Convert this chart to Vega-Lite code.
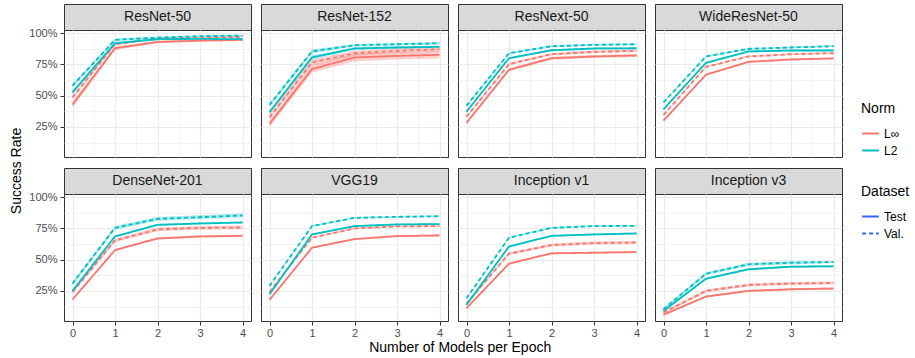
{
"$schema": "https://vega.github.io/schema/vega-lite/v6.json",
"padding": {"left": 10, "top": 3, "right": 5, "bottom": 5},
"background": "white",
"data": {"values": [
{"model":"ResNet-50","norm":"L∞","dataset":"Test","epoch":0,"rate":0.428,"lo":0.403,"hi":0.453},
{"model":"ResNet-50","norm":"L∞","dataset":"Test","epoch":1,"rate":0.880,"lo":0.865,"hi":0.895},
{"model":"ResNet-50","norm":"L∞","dataset":"Test","epoch":2,"rate":0.930,"lo":0.920,"hi":0.940},
{"model":"ResNet-50","norm":"L∞","dataset":"Test","epoch":3,"rate":0.941,"lo":0.931,"hi":0.951},
{"model":"ResNet-50","norm":"L∞","dataset":"Test","epoch":4,"rate":0.947,"lo":0.937,"hi":0.957},
{"model":"ResNet-50","norm":"L∞","dataset":"Val.","epoch":0,"rate":0.487,"lo":0.472,"hi":0.502},
{"model":"ResNet-50","norm":"L∞","dataset":"Val.","epoch":1,"rate":0.912,"lo":0.902,"hi":0.922},
{"model":"ResNet-50","norm":"L∞","dataset":"Val.","epoch":2,"rate":0.957,"lo":0.950,"hi":0.964},
{"model":"ResNet-50","norm":"L∞","dataset":"Val.","epoch":3,"rate":0.965,"lo":0.958,"hi":0.972},
{"model":"ResNet-50","norm":"L∞","dataset":"Val.","epoch":4,"rate":0.970,"lo":0.963,"hi":0.977},
{"model":"ResNet-50","norm":"L2","dataset":"Test","epoch":0,"rate":0.527,"lo":0.512,"hi":0.542},
{"model":"ResNet-50","norm":"L2","dataset":"Test","epoch":1,"rate":0.920,"lo":0.910,"hi":0.930},
{"model":"ResNet-50","norm":"L2","dataset":"Test","epoch":2,"rate":0.952,"lo":0.945,"hi":0.959},
{"model":"ResNet-50","norm":"L2","dataset":"Test","epoch":3,"rate":0.955,"lo":0.948,"hi":0.962},
{"model":"ResNet-50","norm":"L2","dataset":"Test","epoch":4,"rate":0.952,"lo":0.945,"hi":0.959},
{"model":"ResNet-50","norm":"L2","dataset":"Val.","epoch":0,"rate":0.580,"lo":0.565,"hi":0.595},
{"model":"ResNet-50","norm":"L2","dataset":"Val.","epoch":1,"rate":0.947,"lo":0.937,"hi":0.957},
{"model":"ResNet-50","norm":"L2","dataset":"Val.","epoch":2,"rate":0.965,"lo":0.958,"hi":0.972},
{"model":"ResNet-50","norm":"L2","dataset":"Val.","epoch":3,"rate":0.976,"lo":0.969,"hi":0.983},
{"model":"ResNet-50","norm":"L2","dataset":"Val.","epoch":4,"rate":0.981,"lo":0.974,"hi":0.988},
{"model":"ResNet-152","norm":"L∞","dataset":"Test","epoch":0,"rate":0.274,"lo":0.249,"hi":0.299},
{"model":"ResNet-152","norm":"L∞","dataset":"Test","epoch":1,"rate":0.713,"lo":0.683,"hi":0.743},
{"model":"ResNet-152","norm":"L∞","dataset":"Test","epoch":2,"rate":0.806,"lo":0.776,"hi":0.836},
{"model":"ResNet-152","norm":"L∞","dataset":"Test","epoch":3,"rate":0.819,"lo":0.789,"hi":0.849},
{"model":"ResNet-152","norm":"L∞","dataset":"Test","epoch":4,"rate":0.827,"lo":0.797,"hi":0.857},
{"model":"ResNet-152","norm":"L∞","dataset":"Val.","epoch":0,"rate":0.327,"lo":0.307,"hi":0.347},
{"model":"ResNet-152","norm":"L∞","dataset":"Val.","epoch":1,"rate":0.766,"lo":0.741,"hi":0.791},
{"model":"ResNet-152","norm":"L∞","dataset":"Val.","epoch":2,"rate":0.840,"lo":0.820,"hi":0.860},
{"model":"ResNet-152","norm":"L∞","dataset":"Val.","epoch":3,"rate":0.859,"lo":0.839,"hi":0.879},
{"model":"ResNet-152","norm":"L∞","dataset":"Val.","epoch":4,"rate":0.872,"lo":0.852,"hi":0.892},
{"model":"ResNet-152","norm":"L2","dataset":"Test","epoch":0,"rate":0.367,"lo":0.352,"hi":0.382},
{"model":"ResNet-152","norm":"L2","dataset":"Test","epoch":1,"rate":0.806,"lo":0.791,"hi":0.821},
{"model":"ResNet-152","norm":"L2","dataset":"Test","epoch":2,"rate":0.878,"lo":0.868,"hi":0.888},
{"model":"ResNet-152","norm":"L2","dataset":"Test","epoch":3,"rate":0.886,"lo":0.876,"hi":0.896},
{"model":"ResNet-152","norm":"L2","dataset":"Test","epoch":4,"rate":0.891,"lo":0.881,"hi":0.901},
{"model":"ResNet-152","norm":"L2","dataset":"Val.","epoch":0,"rate":0.426,"lo":0.411,"hi":0.441},
{"model":"ResNet-152","norm":"L2","dataset":"Val.","epoch":1,"rate":0.854,"lo":0.839,"hi":0.869},
{"model":"ResNet-152","norm":"L2","dataset":"Val.","epoch":2,"rate":0.904,"lo":0.894,"hi":0.914},
{"model":"ResNet-152","norm":"L2","dataset":"Val.","epoch":3,"rate":0.912,"lo":0.902,"hi":0.922},
{"model":"ResNet-152","norm":"L2","dataset":"Val.","epoch":4,"rate":0.920,"lo":0.910,"hi":0.930},
{"model":"ResNext-50","norm":"L∞","dataset":"Test","epoch":0,"rate":0.282,"lo":0.270,"hi":0.294},
{"model":"ResNext-50","norm":"L∞","dataset":"Test","epoch":1,"rate":0.707,"lo":0.695,"hi":0.719},
{"model":"ResNext-50","norm":"L∞","dataset":"Test","epoch":2,"rate":0.800,"lo":0.788,"hi":0.812},
{"model":"ResNext-50","norm":"L∞","dataset":"Test","epoch":3,"rate":0.814,"lo":0.802,"hi":0.826},
{"model":"ResNext-50","norm":"L∞","dataset":"Test","epoch":4,"rate":0.822,"lo":0.810,"hi":0.834},
{"model":"ResNext-50","norm":"L∞","dataset":"Val.","epoch":0,"rate":0.332,"lo":0.322,"hi":0.342},
{"model":"ResNext-50","norm":"L∞","dataset":"Val.","epoch":1,"rate":0.753,"lo":0.743,"hi":0.763},
{"model":"ResNext-50","norm":"L∞","dataset":"Val.","epoch":2,"rate":0.832,"lo":0.822,"hi":0.842},
{"model":"ResNext-50","norm":"L∞","dataset":"Val.","epoch":3,"rate":0.851,"lo":0.841,"hi":0.861},
{"model":"ResNext-50","norm":"L∞","dataset":"Val.","epoch":4,"rate":0.859,"lo":0.849,"hi":0.869},
{"model":"ResNext-50","norm":"L2","dataset":"Test","epoch":0,"rate":0.372,"lo":0.364,"hi":0.380},
{"model":"ResNext-50","norm":"L2","dataset":"Test","epoch":1,"rate":0.800,"lo":0.792,"hi":0.808},
{"model":"ResNext-50","norm":"L2","dataset":"Test","epoch":2,"rate":0.864,"lo":0.856,"hi":0.872},
{"model":"ResNext-50","norm":"L2","dataset":"Test","epoch":3,"rate":0.878,"lo":0.870,"hi":0.886},
{"model":"ResNext-50","norm":"L2","dataset":"Test","epoch":4,"rate":0.880,"lo":0.872,"hi":0.888},
{"model":"ResNext-50","norm":"L2","dataset":"Val.","epoch":0,"rate":0.420,"lo":0.412,"hi":0.428},
{"model":"ResNext-50","norm":"L2","dataset":"Val.","epoch":1,"rate":0.840,"lo":0.832,"hi":0.848},
{"model":"ResNext-50","norm":"L2","dataset":"Val.","epoch":2,"rate":0.896,"lo":0.888,"hi":0.904},
{"model":"ResNext-50","norm":"L2","dataset":"Val.","epoch":3,"rate":0.907,"lo":0.899,"hi":0.915},
{"model":"ResNext-50","norm":"L2","dataset":"Val.","epoch":4,"rate":0.912,"lo":0.904,"hi":0.920},
{"model":"WideResNet-50","norm":"L∞","dataset":"Test","epoch":0,"rate":0.300,"lo":0.293,"hi":0.307},
{"model":"WideResNet-50","norm":"L∞","dataset":"Test","epoch":1,"rate":0.668,"lo":0.661,"hi":0.675},
{"model":"WideResNet-50","norm":"L∞","dataset":"Test","epoch":2,"rate":0.771,"lo":0.764,"hi":0.778},
{"model":"WideResNet-50","norm":"L∞","dataset":"Test","epoch":3,"rate":0.790,"lo":0.783,"hi":0.797},
{"model":"WideResNet-50","norm":"L∞","dataset":"Test","epoch":4,"rate":0.798,"lo":0.791,"hi":0.805},
{"model":"WideResNet-50","norm":"L∞","dataset":"Val.","epoch":0,"rate":0.346,"lo":0.339,"hi":0.353},
{"model":"WideResNet-50","norm":"L∞","dataset":"Val.","epoch":1,"rate":0.731,"lo":0.724,"hi":0.738},
{"model":"WideResNet-50","norm":"L∞","dataset":"Val.","epoch":2,"rate":0.814,"lo":0.807,"hi":0.821},
{"model":"WideResNet-50","norm":"L∞","dataset":"Val.","epoch":3,"rate":0.832,"lo":0.825,"hi":0.839},
{"model":"WideResNet-50","norm":"L∞","dataset":"Val.","epoch":4,"rate":0.840,"lo":0.833,"hi":0.847},
{"model":"WideResNet-50","norm":"L2","dataset":"Test","epoch":0,"rate":0.391,"lo":0.384,"hi":0.398},
{"model":"WideResNet-50","norm":"L2","dataset":"Test","epoch":1,"rate":0.763,"lo":0.756,"hi":0.770},
{"model":"WideResNet-50","norm":"L2","dataset":"Test","epoch":2,"rate":0.854,"lo":0.847,"hi":0.861},
{"model":"WideResNet-50","norm":"L2","dataset":"Test","epoch":3,"rate":0.862,"lo":0.855,"hi":0.869},
{"model":"WideResNet-50","norm":"L2","dataset":"Test","epoch":4,"rate":0.862,"lo":0.855,"hi":0.869},
{"model":"WideResNet-50","norm":"L2","dataset":"Val.","epoch":0,"rate":0.447,"lo":0.440,"hi":0.454},
{"model":"WideResNet-50","norm":"L2","dataset":"Val.","epoch":1,"rate":0.814,"lo":0.807,"hi":0.821},
{"model":"WideResNet-50","norm":"L2","dataset":"Val.","epoch":2,"rate":0.875,"lo":0.868,"hi":0.882},
{"model":"WideResNet-50","norm":"L2","dataset":"Val.","epoch":3,"rate":0.886,"lo":0.879,"hi":0.893},
{"model":"WideResNet-50","norm":"L2","dataset":"Val.","epoch":4,"rate":0.896,"lo":0.889,"hi":0.903},
{"model":"DenseNet-201","norm":"L∞","dataset":"Test","epoch":0,"rate":0.181,"lo":0.173,"hi":0.189},
{"model":"DenseNet-201","norm":"L∞","dataset":"Test","epoch":1,"rate":0.577,"lo":0.569,"hi":0.585},
{"model":"DenseNet-201","norm":"L∞","dataset":"Test","epoch":2,"rate":0.670,"lo":0.662,"hi":0.678},
{"model":"DenseNet-201","norm":"L∞","dataset":"Test","epoch":3,"rate":0.686,"lo":0.678,"hi":0.694},
{"model":"DenseNet-201","norm":"L∞","dataset":"Test","epoch":4,"rate":0.691,"lo":0.683,"hi":0.699},
{"model":"DenseNet-201","norm":"L∞","dataset":"Val.","epoch":0,"rate":0.242,"lo":0.227,"hi":0.257},
{"model":"DenseNet-201","norm":"L∞","dataset":"Val.","epoch":1,"rate":0.654,"lo":0.639,"hi":0.669},
{"model":"DenseNet-201","norm":"L∞","dataset":"Val.","epoch":2,"rate":0.742,"lo":0.727,"hi":0.757},
{"model":"DenseNet-201","norm":"L∞","dataset":"Val.","epoch":3,"rate":0.755,"lo":0.740,"hi":0.770},
{"model":"DenseNet-201","norm":"L∞","dataset":"Val.","epoch":4,"rate":0.758,"lo":0.743,"hi":0.773},
{"model":"DenseNet-201","norm":"L2","dataset":"Test","epoch":0,"rate":0.250,"lo":0.242,"hi":0.258},
{"model":"DenseNet-201","norm":"L2","dataset":"Test","epoch":1,"rate":0.686,"lo":0.678,"hi":0.694},
{"model":"DenseNet-201","norm":"L2","dataset":"Test","epoch":2,"rate":0.779,"lo":0.771,"hi":0.787},
{"model":"DenseNet-201","norm":"L2","dataset":"Test","epoch":3,"rate":0.790,"lo":0.782,"hi":0.798},
{"model":"DenseNet-201","norm":"L2","dataset":"Test","epoch":4,"rate":0.798,"lo":0.790,"hi":0.806},
{"model":"DenseNet-201","norm":"L2","dataset":"Val.","epoch":0,"rate":0.309,"lo":0.294,"hi":0.324},
{"model":"DenseNet-201","norm":"L2","dataset":"Val.","epoch":1,"rate":0.755,"lo":0.740,"hi":0.770},
{"model":"DenseNet-201","norm":"L2","dataset":"Val.","epoch":2,"rate":0.827,"lo":0.812,"hi":0.842},
{"model":"DenseNet-201","norm":"L2","dataset":"Val.","epoch":3,"rate":0.840,"lo":0.825,"hi":0.855},
{"model":"DenseNet-201","norm":"L2","dataset":"Val.","epoch":4,"rate":0.854,"lo":0.839,"hi":0.869},
{"model":"VGG19","norm":"L∞","dataset":"Test","epoch":0,"rate":0.178,"lo":0.171,"hi":0.185},
{"model":"VGG19","norm":"L∞","dataset":"Test","epoch":1,"rate":0.596,"lo":0.589,"hi":0.603},
{"model":"VGG19","norm":"L∞","dataset":"Test","epoch":2,"rate":0.665,"lo":0.658,"hi":0.672},
{"model":"VGG19","norm":"L∞","dataset":"Test","epoch":3,"rate":0.689,"lo":0.682,"hi":0.696},
{"model":"VGG19","norm":"L∞","dataset":"Test","epoch":4,"rate":0.694,"lo":0.687,"hi":0.701},
{"model":"VGG19","norm":"L∞","dataset":"Val.","epoch":0,"rate":0.242,"lo":0.235,"hi":0.249},
{"model":"VGG19","norm":"L∞","dataset":"Val.","epoch":1,"rate":0.676,"lo":0.669,"hi":0.683},
{"model":"VGG19","norm":"L∞","dataset":"Val.","epoch":2,"rate":0.750,"lo":0.743,"hi":0.757},
{"model":"VGG19","norm":"L∞","dataset":"Val.","epoch":3,"rate":0.766,"lo":0.759,"hi":0.773},
{"model":"VGG19","norm":"L∞","dataset":"Val.","epoch":4,"rate":0.769,"lo":0.762,"hi":0.776},
{"model":"VGG19","norm":"L2","dataset":"Test","epoch":0,"rate":0.223,"lo":0.216,"hi":0.230},
{"model":"VGG19","norm":"L2","dataset":"Test","epoch":1,"rate":0.702,"lo":0.695,"hi":0.709},
{"model":"VGG19","norm":"L2","dataset":"Test","epoch":2,"rate":0.769,"lo":0.762,"hi":0.776},
{"model":"VGG19","norm":"L2","dataset":"Test","epoch":3,"rate":0.782,"lo":0.775,"hi":0.789},
{"model":"VGG19","norm":"L2","dataset":"Test","epoch":4,"rate":0.785,"lo":0.778,"hi":0.792},
{"model":"VGG19","norm":"L2","dataset":"Val.","epoch":0,"rate":0.290,"lo":0.283,"hi":0.297},
{"model":"VGG19","norm":"L2","dataset":"Val.","epoch":1,"rate":0.769,"lo":0.762,"hi":0.776},
{"model":"VGG19","norm":"L2","dataset":"Val.","epoch":2,"rate":0.835,"lo":0.828,"hi":0.842},
{"model":"VGG19","norm":"L2","dataset":"Val.","epoch":3,"rate":0.843,"lo":0.836,"hi":0.850},
{"model":"VGG19","norm":"L2","dataset":"Val.","epoch":4,"rate":0.848,"lo":0.841,"hi":0.855},
{"model":"Inception v1","norm":"L∞","dataset":"Test","epoch":0,"rate":0.112,"lo":0.105,"hi":0.119},
{"model":"Inception v1","norm":"L∞","dataset":"Test","epoch":1,"rate":0.468,"lo":0.461,"hi":0.475},
{"model":"Inception v1","norm":"L∞","dataset":"Test","epoch":2,"rate":0.551,"lo":0.544,"hi":0.558},
{"model":"Inception v1","norm":"L∞","dataset":"Test","epoch":3,"rate":0.556,"lo":0.549,"hi":0.563},
{"model":"Inception v1","norm":"L∞","dataset":"Test","epoch":4,"rate":0.561,"lo":0.554,"hi":0.568},
{"model":"Inception v1","norm":"L∞","dataset":"Val.","epoch":0,"rate":0.149,"lo":0.137,"hi":0.161},
{"model":"Inception v1","norm":"L∞","dataset":"Val.","epoch":1,"rate":0.548,"lo":0.536,"hi":0.560},
{"model":"Inception v1","norm":"L∞","dataset":"Val.","epoch":2,"rate":0.617,"lo":0.605,"hi":0.629},
{"model":"Inception v1","norm":"L∞","dataset":"Val.","epoch":3,"rate":0.633,"lo":0.621,"hi":0.645},
{"model":"Inception v1","norm":"L∞","dataset":"Val.","epoch":4,"rate":0.638,"lo":0.626,"hi":0.650},
{"model":"Inception v1","norm":"L2","dataset":"Test","epoch":0,"rate":0.138,"lo":0.131,"hi":0.145},
{"model":"Inception v1","norm":"L2","dataset":"Test","epoch":1,"rate":0.606,"lo":0.599,"hi":0.613},
{"model":"Inception v1","norm":"L2","dataset":"Test","epoch":2,"rate":0.691,"lo":0.684,"hi":0.698},
{"model":"Inception v1","norm":"L2","dataset":"Test","epoch":3,"rate":0.702,"lo":0.695,"hi":0.709},
{"model":"Inception v1","norm":"L2","dataset":"Test","epoch":4,"rate":0.710,"lo":0.703,"hi":0.717},
{"model":"Inception v1","norm":"L2","dataset":"Val.","epoch":0,"rate":0.191,"lo":0.184,"hi":0.198},
{"model":"Inception v1","norm":"L2","dataset":"Val.","epoch":1,"rate":0.676,"lo":0.669,"hi":0.683},
{"model":"Inception v1","norm":"L2","dataset":"Val.","epoch":2,"rate":0.755,"lo":0.748,"hi":0.762},
{"model":"Inception v1","norm":"L2","dataset":"Val.","epoch":3,"rate":0.769,"lo":0.762,"hi":0.776},
{"model":"Inception v1","norm":"L2","dataset":"Val.","epoch":4,"rate":0.771,"lo":0.764,"hi":0.778},
{"model":"Inception v3","norm":"L∞","dataset":"Test","epoch":0,"rate":0.059,"lo":0.051,"hi":0.067},
{"model":"Inception v3","norm":"L∞","dataset":"Test","epoch":1,"rate":0.205,"lo":0.197,"hi":0.213},
{"model":"Inception v3","norm":"L∞","dataset":"Test","epoch":2,"rate":0.250,"lo":0.242,"hi":0.258},
{"model":"Inception v3","norm":"L∞","dataset":"Test","epoch":3,"rate":0.263,"lo":0.255,"hi":0.271},
{"model":"Inception v3","norm":"L∞","dataset":"Test","epoch":4,"rate":0.269,"lo":0.261,"hi":0.277},
{"model":"Inception v3","norm":"L∞","dataset":"Val.","epoch":0,"rate":0.077,"lo":0.065,"hi":0.089},
{"model":"Inception v3","norm":"L∞","dataset":"Val.","epoch":1,"rate":0.250,"lo":0.238,"hi":0.262},
{"model":"Inception v3","norm":"L∞","dataset":"Val.","epoch":2,"rate":0.298,"lo":0.286,"hi":0.310},
{"model":"Inception v3","norm":"L∞","dataset":"Val.","epoch":3,"rate":0.309,"lo":0.297,"hi":0.321},
{"model":"Inception v3","norm":"L∞","dataset":"Val.","epoch":4,"rate":0.314,"lo":0.302,"hi":0.326},
{"model":"Inception v3","norm":"L2","dataset":"Test","epoch":0,"rate":0.090,"lo":0.082,"hi":0.098},
{"model":"Inception v3","norm":"L2","dataset":"Test","epoch":1,"rate":0.348,"lo":0.340,"hi":0.356},
{"model":"Inception v3","norm":"L2","dataset":"Test","epoch":2,"rate":0.423,"lo":0.415,"hi":0.431},
{"model":"Inception v3","norm":"L2","dataset":"Test","epoch":3,"rate":0.444,"lo":0.436,"hi":0.452},
{"model":"Inception v3","norm":"L2","dataset":"Test","epoch":4,"rate":0.447,"lo":0.439,"hi":0.455},
{"model":"Inception v3","norm":"L2","dataset":"Val.","epoch":0,"rate":0.104,"lo":0.092,"hi":0.116},
{"model":"Inception v3","norm":"L2","dataset":"Val.","epoch":1,"rate":0.388,"lo":0.376,"hi":0.400},
{"model":"Inception v3","norm":"L2","dataset":"Val.","epoch":2,"rate":0.463,"lo":0.451,"hi":0.475},
{"model":"Inception v3","norm":"L2","dataset":"Val.","epoch":3,"rate":0.476,"lo":0.464,"hi":0.488},
{"model":"Inception v3","norm":"L2","dataset":"Val.","epoch":4,"rate":0.481,"lo":0.474,"hi":0.488}
]},
"title": {"text": "Number of Models per Epoch", "orient": "bottom", "anchor": "middle", "fontSize": 14, "fontWeight": "normal", "color": "#000000", "font": "Liberation Sans", "offset": 2},
"vconcat": [{
"title": {"text": "Success Rate", "orient": "left", "anchor": "middle", "fontSize": 14, "fontWeight": "normal", "color": "#000000", "font": "Liberation Sans", "offset": 4},
"spacing": 9,
"vconcat": [
{"spacing": 8, "hconcat": [
{"spacing": 0, "bounds": "flush", "vconcat": [
 {"width": 187, "height": 26, "view": {"fill": "#D9D9D9", "stroke": "#333333"}, "transform": [{"filter": "datum.model === 'ResNet-50'"}, {"aggregate": [{"op": "count", "as": "n"}], "groupby": ["model"]}], "mark": {"type": "text", "fontSize": 14, "color": "#1A1A1A", "font": "Liberation Sans", "baseline": "middle"}, "encoding": {"text": {"field": "model"}}},
 {"width": 187, "height": 127, "transform": [{"filter": "datum.model === 'ResNet-50'"}],
  "encoding": {"x": {"field": "epoch", "type": "quantitative", "scale": {"domain": [-0.2, 4.2], "nice": false, "zero": false}, "axis": {"title": null, "values": [0,0.5,1,1.5,2,2.5,3,3.5,4], "labels": false, "ticks": false, "gridWidth": {"condition": {"test": "datum.value % 1 !== 0", "value": 0.6}, "value": 1.2}}},
   "color": {"field": "norm", "type": "nominal", "title": "Norm", "scale": {"domain": ["L∞", "L2"], "range": ["#F8766D", "#00BFC4"]}}},
  "layer": [
   {"mark": {"type": "area", "fillOpacity": 0.35}, "encoding": {"y": {"field": "lo", "type": "quantitative", "scale": {"domain": [0.009, 1.026], "nice": false, "zero": false}, "axis": {"title": null, "values": [0.125,0.25,0.375,0.5,0.625,0.75,0.875,1], "format": ".0%", "labelOverlap": false, "labelExpr": "(datum.value * 8) % 2 === 0 ? datum.label : ''", "tickOpacity": {"condition": {"test": "(datum.value * 8) % 2 !== 0", "value": 0}, "value": 1}, "gridWidth": {"condition": {"test": "(datum.value * 8) % 2 !== 0", "value": 0.6}, "value": 1.2}}}, "y2": {"field": "hi"}, "detail": {"field": "dataset"}}},
   {"mark": {"type": "line", "strokeWidth": 1.8}, "encoding": {"y": {"field": "rate", "type": "quantitative", "axis": {"title": null, "values": [0.125,0.25,0.375,0.5,0.625,0.75,0.875,1], "format": ".0%", "labelOverlap": false, "labelExpr": "(datum.value * 8) % 2 === 0 ? datum.label : ''", "tickOpacity": {"condition": {"test": "(datum.value * 8) % 2 !== 0", "value": 0}, "value": 1}, "gridWidth": {"condition": {"test": "(datum.value * 8) % 2 !== 0", "value": 0.6}, "value": 1.2}}}, "strokeDash": {"field": "dataset", "type": "nominal", "title": "Dataset", "scale": {"domain": ["Test", "Val."], "range": [[1, 0], [4, 3]]}, "legend": {"symbolStrokeColor": "#3366FF"}}}}
  ]}
]},
{"spacing": 0, "bounds": "flush", "vconcat": [
 {"width": 187, "height": 26, "view": {"fill": "#D9D9D9", "stroke": "#333333"}, "transform": [{"filter": "datum.model === 'ResNet-152'"}, {"aggregate": [{"op": "count", "as": "n"}], "groupby": ["model"]}], "mark": {"type": "text", "fontSize": 14, "color": "#1A1A1A", "font": "Liberation Sans", "baseline": "middle"}, "encoding": {"text": {"field": "model"}}},
 {"width": 187, "height": 127, "transform": [{"filter": "datum.model === 'ResNet-152'"}],
  "encoding": {"x": {"field": "epoch", "type": "quantitative", "scale": {"domain": [-0.2, 4.2], "nice": false, "zero": false}, "axis": {"title": null, "values": [0,0.5,1,1.5,2,2.5,3,3.5,4], "labels": false, "ticks": false, "gridWidth": {"condition": {"test": "datum.value % 1 !== 0", "value": 0.6}, "value": 1.2}}},
   "color": {"field": "norm", "type": "nominal", "title": "Norm", "scale": {"domain": ["L∞", "L2"], "range": ["#F8766D", "#00BFC4"]}}},
  "layer": [
   {"mark": {"type": "area", "fillOpacity": 0.35}, "encoding": {"y": {"field": "lo", "type": "quantitative", "scale": {"domain": [0.009, 1.026], "nice": false, "zero": false}, "axis": {"title": null, "values": [0.125,0.25,0.375,0.5,0.625,0.75,0.875,1], "labels": false, "ticks": false, "gridWidth": {"condition": {"test": "(datum.value * 8) % 2 !== 0", "value": 0.6}, "value": 1.2}}}, "y2": {"field": "hi"}, "detail": {"field": "dataset"}}},
   {"mark": {"type": "line", "strokeWidth": 1.8}, "encoding": {"y": {"field": "rate", "type": "quantitative", "axis": {"title": null, "values": [0.125,0.25,0.375,0.5,0.625,0.75,0.875,1], "labels": false, "ticks": false, "gridWidth": {"condition": {"test": "(datum.value * 8) % 2 !== 0", "value": 0.6}, "value": 1.2}}}, "strokeDash": {"field": "dataset", "type": "nominal", "title": "Dataset", "scale": {"domain": ["Test", "Val."], "range": [[1, 0], [4, 3]]}, "legend": {"symbolStrokeColor": "#3366FF"}}}}
  ]}
]},
{"spacing": 0, "bounds": "flush", "vconcat": [
 {"width": 187, "height": 26, "view": {"fill": "#D9D9D9", "stroke": "#333333"}, "transform": [{"filter": "datum.model === 'ResNext-50'"}, {"aggregate": [{"op": "count", "as": "n"}], "groupby": ["model"]}], "mark": {"type": "text", "fontSize": 14, "color": "#1A1A1A", "font": "Liberation Sans", "baseline": "middle"}, "encoding": {"text": {"field": "model"}}},
 {"width": 187, "height": 127, "transform": [{"filter": "datum.model === 'ResNext-50'"}],
  "encoding": {"x": {"field": "epoch", "type": "quantitative", "scale": {"domain": [-0.2, 4.2], "nice": false, "zero": false}, "axis": {"title": null, "values": [0,0.5,1,1.5,2,2.5,3,3.5,4], "labels": false, "ticks": false, "gridWidth": {"condition": {"test": "datum.value % 1 !== 0", "value": 0.6}, "value": 1.2}}},
   "color": {"field": "norm", "type": "nominal", "title": "Norm", "scale": {"domain": ["L∞", "L2"], "range": ["#F8766D", "#00BFC4"]}}},
  "layer": [
   {"mark": {"type": "area", "fillOpacity": 0.35}, "encoding": {"y": {"field": "lo", "type": "quantitative", "scale": {"domain": [0.009, 1.026], "nice": false, "zero": false}, "axis": {"title": null, "values": [0.125,0.25,0.375,0.5,0.625,0.75,0.875,1], "labels": false, "ticks": false, "gridWidth": {"condition": {"test": "(datum.value * 8) % 2 !== 0", "value": 0.6}, "value": 1.2}}}, "y2": {"field": "hi"}, "detail": {"field": "dataset"}}},
   {"mark": {"type": "line", "strokeWidth": 1.8}, "encoding": {"y": {"field": "rate", "type": "quantitative", "axis": {"title": null, "values": [0.125,0.25,0.375,0.5,0.625,0.75,0.875,1], "labels": false, "ticks": false, "gridWidth": {"condition": {"test": "(datum.value * 8) % 2 !== 0", "value": 0.6}, "value": 1.2}}}, "strokeDash": {"field": "dataset", "type": "nominal", "title": "Dataset", "scale": {"domain": ["Test", "Val."], "range": [[1, 0], [4, 3]]}, "legend": {"symbolStrokeColor": "#3366FF"}}}}
  ]}
]},
{"spacing": 0, "bounds": "flush", "vconcat": [
 {"width": 187, "height": 26, "view": {"fill": "#D9D9D9", "stroke": "#333333"}, "transform": [{"filter": "datum.model === 'WideResNet-50'"}, {"aggregate": [{"op": "count", "as": "n"}], "groupby": ["model"]}], "mark": {"type": "text", "fontSize": 14, "color": "#1A1A1A", "font": "Liberation Sans", "baseline": "middle"}, "encoding": {"text": {"field": "model"}}},
 {"width": 187, "height": 127, "transform": [{"filter": "datum.model === 'WideResNet-50'"}],
  "encoding": {"x": {"field": "epoch", "type": "quantitative", "scale": {"domain": [-0.2, 4.2], "nice": false, "zero": false}, "axis": {"title": null, "values": [0,0.5,1,1.5,2,2.5,3,3.5,4], "labels": false, "ticks": false, "gridWidth": {"condition": {"test": "datum.value % 1 !== 0", "value": 0.6}, "value": 1.2}}},
   "color": {"field": "norm", "type": "nominal", "title": "Norm", "scale": {"domain": ["L∞", "L2"], "range": ["#F8766D", "#00BFC4"]}}},
  "layer": [
   {"mark": {"type": "area", "fillOpacity": 0.35}, "encoding": {"y": {"field": "lo", "type": "quantitative", "scale": {"domain": [0.009, 1.026], "nice": false, "zero": false}, "axis": {"title": null, "values": [0.125,0.25,0.375,0.5,0.625,0.75,0.875,1], "labels": false, "ticks": false, "gridWidth": {"condition": {"test": "(datum.value * 8) % 2 !== 0", "value": 0.6}, "value": 1.2}}}, "y2": {"field": "hi"}, "detail": {"field": "dataset"}}},
   {"mark": {"type": "line", "strokeWidth": 1.8}, "encoding": {"y": {"field": "rate", "type": "quantitative", "axis": {"title": null, "values": [0.125,0.25,0.375,0.5,0.625,0.75,0.875,1], "labels": false, "ticks": false, "gridWidth": {"condition": {"test": "(datum.value * 8) % 2 !== 0", "value": 0.6}, "value": 1.2}}}, "strokeDash": {"field": "dataset", "type": "nominal", "title": "Dataset", "scale": {"domain": ["Test", "Val."], "range": [[1, 0], [4, 3]]}, "legend": {"symbolStrokeColor": "#3366FF"}}}}
  ]}
]}
]},
{"spacing": 8, "hconcat": [
{"spacing": 0, "bounds": "flush", "vconcat": [
 {"width": 187, "height": 26, "view": {"fill": "#D9D9D9", "stroke": "#333333"}, "transform": [{"filter": "datum.model === 'DenseNet-201'"}, {"aggregate": [{"op": "count", "as": "n"}], "groupby": ["model"]}], "mark": {"type": "text", "fontSize": 14, "color": "#1A1A1A", "font": "Liberation Sans", "baseline": "middle"}, "encoding": {"text": {"field": "model"}}},
 {"width": 187, "height": 127, "transform": [{"filter": "datum.model === 'DenseNet-201'"}],
  "encoding": {"x": {"field": "epoch", "type": "quantitative", "scale": {"domain": [-0.2, 4.2], "nice": false, "zero": false}, "axis": {"title": null, "values": [0,0.5,1,1.5,2,2.5,3,3.5,4], "format": "d", "labelOverlap": false, "labelExpr": "datum.value % 1 === 0 ? datum.label : ''", "tickOpacity": {"condition": {"test": "datum.value % 1 !== 0", "value": 0}, "value": 1}, "gridWidth": {"condition": {"test": "datum.value % 1 !== 0", "value": 0.6}, "value": 1.2}}},
   "color": {"field": "norm", "type": "nominal", "title": "Norm", "scale": {"domain": ["L∞", "L2"], "range": ["#F8766D", "#00BFC4"]}}},
  "layer": [
   {"mark": {"type": "area", "fillOpacity": 0.35}, "encoding": {"y": {"field": "lo", "type": "quantitative", "scale": {"domain": [0.009, 1.026], "nice": false, "zero": false}, "axis": {"title": null, "values": [0.125,0.25,0.375,0.5,0.625,0.75,0.875,1], "format": ".0%", "labelOverlap": false, "labelExpr": "(datum.value * 8) % 2 === 0 ? datum.label : ''", "tickOpacity": {"condition": {"test": "(datum.value * 8) % 2 !== 0", "value": 0}, "value": 1}, "gridWidth": {"condition": {"test": "(datum.value * 8) % 2 !== 0", "value": 0.6}, "value": 1.2}}}, "y2": {"field": "hi"}, "detail": {"field": "dataset"}}},
   {"mark": {"type": "line", "strokeWidth": 1.8}, "encoding": {"y": {"field": "rate", "type": "quantitative", "axis": {"title": null, "values": [0.125,0.25,0.375,0.5,0.625,0.75,0.875,1], "format": ".0%", "labelOverlap": false, "labelExpr": "(datum.value * 8) % 2 === 0 ? datum.label : ''", "tickOpacity": {"condition": {"test": "(datum.value * 8) % 2 !== 0", "value": 0}, "value": 1}, "gridWidth": {"condition": {"test": "(datum.value * 8) % 2 !== 0", "value": 0.6}, "value": 1.2}}}, "strokeDash": {"field": "dataset", "type": "nominal", "title": "Dataset", "scale": {"domain": ["Test", "Val."], "range": [[1, 0], [4, 3]]}, "legend": {"symbolStrokeColor": "#3366FF"}}}}
  ]}
]},
{"spacing": 0, "bounds": "flush", "vconcat": [
 {"width": 187, "height": 26, "view": {"fill": "#D9D9D9", "stroke": "#333333"}, "transform": [{"filter": "datum.model === 'VGG19'"}, {"aggregate": [{"op": "count", "as": "n"}], "groupby": ["model"]}], "mark": {"type": "text", "fontSize": 14, "color": "#1A1A1A", "font": "Liberation Sans", "baseline": "middle"}, "encoding": {"text": {"field": "model"}}},
 {"width": 187, "height": 127, "transform": [{"filter": "datum.model === 'VGG19'"}],
  "encoding": {"x": {"field": "epoch", "type": "quantitative", "scale": {"domain": [-0.2, 4.2], "nice": false, "zero": false}, "axis": {"title": null, "values": [0,0.5,1,1.5,2,2.5,3,3.5,4], "format": "d", "labelOverlap": false, "labelExpr": "datum.value % 1 === 0 ? datum.label : ''", "tickOpacity": {"condition": {"test": "datum.value % 1 !== 0", "value": 0}, "value": 1}, "gridWidth": {"condition": {"test": "datum.value % 1 !== 0", "value": 0.6}, "value": 1.2}}},
   "color": {"field": "norm", "type": "nominal", "title": "Norm", "scale": {"domain": ["L∞", "L2"], "range": ["#F8766D", "#00BFC4"]}}},
  "layer": [
   {"mark": {"type": "area", "fillOpacity": 0.35}, "encoding": {"y": {"field": "lo", "type": "quantitative", "scale": {"domain": [0.009, 1.026], "nice": false, "zero": false}, "axis": {"title": null, "values": [0.125,0.25,0.375,0.5,0.625,0.75,0.875,1], "labels": false, "ticks": false, "gridWidth": {"condition": {"test": "(datum.value * 8) % 2 !== 0", "value": 0.6}, "value": 1.2}}}, "y2": {"field": "hi"}, "detail": {"field": "dataset"}}},
   {"mark": {"type": "line", "strokeWidth": 1.8}, "encoding": {"y": {"field": "rate", "type": "quantitative", "axis": {"title": null, "values": [0.125,0.25,0.375,0.5,0.625,0.75,0.875,1], "labels": false, "ticks": false, "gridWidth": {"condition": {"test": "(datum.value * 8) % 2 !== 0", "value": 0.6}, "value": 1.2}}}, "strokeDash": {"field": "dataset", "type": "nominal", "title": "Dataset", "scale": {"domain": ["Test", "Val."], "range": [[1, 0], [4, 3]]}, "legend": {"symbolStrokeColor": "#3366FF"}}}}
  ]}
]},
{"spacing": 0, "bounds": "flush", "vconcat": [
 {"width": 187, "height": 26, "view": {"fill": "#D9D9D9", "stroke": "#333333"}, "transform": [{"filter": "datum.model === 'Inception v1'"}, {"aggregate": [{"op": "count", "as": "n"}], "groupby": ["model"]}], "mark": {"type": "text", "fontSize": 14, "color": "#1A1A1A", "font": "Liberation Sans", "baseline": "middle"}, "encoding": {"text": {"field": "model"}}},
 {"width": 187, "height": 127, "transform": [{"filter": "datum.model === 'Inception v1'"}],
  "encoding": {"x": {"field": "epoch", "type": "quantitative", "scale": {"domain": [-0.2, 4.2], "nice": false, "zero": false}, "axis": {"title": null, "values": [0,0.5,1,1.5,2,2.5,3,3.5,4], "format": "d", "labelOverlap": false, "labelExpr": "datum.value % 1 === 0 ? datum.label : ''", "tickOpacity": {"condition": {"test": "datum.value % 1 !== 0", "value": 0}, "value": 1}, "gridWidth": {"condition": {"test": "datum.value % 1 !== 0", "value": 0.6}, "value": 1.2}}},
   "color": {"field": "norm", "type": "nominal", "title": "Norm", "scale": {"domain": ["L∞", "L2"], "range": ["#F8766D", "#00BFC4"]}}},
  "layer": [
   {"mark": {"type": "area", "fillOpacity": 0.35}, "encoding": {"y": {"field": "lo", "type": "quantitative", "scale": {"domain": [0.009, 1.026], "nice": false, "zero": false}, "axis": {"title": null, "values": [0.125,0.25,0.375,0.5,0.625,0.75,0.875,1], "labels": false, "ticks": false, "gridWidth": {"condition": {"test": "(datum.value * 8) % 2 !== 0", "value": 0.6}, "value": 1.2}}}, "y2": {"field": "hi"}, "detail": {"field": "dataset"}}},
   {"mark": {"type": "line", "strokeWidth": 1.8}, "encoding": {"y": {"field": "rate", "type": "quantitative", "axis": {"title": null, "values": [0.125,0.25,0.375,0.5,0.625,0.75,0.875,1], "labels": false, "ticks": false, "gridWidth": {"condition": {"test": "(datum.value * 8) % 2 !== 0", "value": 0.6}, "value": 1.2}}}, "strokeDash": {"field": "dataset", "type": "nominal", "title": "Dataset", "scale": {"domain": ["Test", "Val."], "range": [[1, 0], [4, 3]]}, "legend": {"symbolStrokeColor": "#3366FF"}}}}
  ]}
]},
{"spacing": 0, "bounds": "flush", "vconcat": [
 {"width": 187, "height": 26, "view": {"fill": "#D9D9D9", "stroke": "#333333"}, "transform": [{"filter": "datum.model === 'Inception v3'"}, {"aggregate": [{"op": "count", "as": "n"}], "groupby": ["model"]}], "mark": {"type": "text", "fontSize": 14, "color": "#1A1A1A", "font": "Liberation Sans", "baseline": "middle"}, "encoding": {"text": {"field": "model"}}},
 {"width": 187, "height": 127, "transform": [{"filter": "datum.model === 'Inception v3'"}],
  "encoding": {"x": {"field": "epoch", "type": "quantitative", "scale": {"domain": [-0.2, 4.2], "nice": false, "zero": false}, "axis": {"title": null, "values": [0,0.5,1,1.5,2,2.5,3,3.5,4], "format": "d", "labelOverlap": false, "labelExpr": "datum.value % 1 === 0 ? datum.label : ''", "tickOpacity": {"condition": {"test": "datum.value % 1 !== 0", "value": 0}, "value": 1}, "gridWidth": {"condition": {"test": "datum.value % 1 !== 0", "value": 0.6}, "value": 1.2}}},
   "color": {"field": "norm", "type": "nominal", "title": "Norm", "scale": {"domain": ["L∞", "L2"], "range": ["#F8766D", "#00BFC4"]}}},
  "layer": [
   {"mark": {"type": "area", "fillOpacity": 0.35}, "encoding": {"y": {"field": "lo", "type": "quantitative", "scale": {"domain": [0.009, 1.026], "nice": false, "zero": false}, "axis": {"title": null, "values": [0.125,0.25,0.375,0.5,0.625,0.75,0.875,1], "labels": false, "ticks": false, "gridWidth": {"condition": {"test": "(datum.value * 8) % 2 !== 0", "value": 0.6}, "value": 1.2}}}, "y2": {"field": "hi"}, "detail": {"field": "dataset"}}},
   {"mark": {"type": "line", "strokeWidth": 1.8}, "encoding": {"y": {"field": "rate", "type": "quantitative", "axis": {"title": null, "values": [0.125,0.25,0.375,0.5,0.625,0.75,0.875,1], "labels": false, "ticks": false, "gridWidth": {"condition": {"test": "(datum.value * 8) % 2 !== 0", "value": 0.6}, "value": 1.2}}}, "strokeDash": {"field": "dataset", "type": "nominal", "title": "Dataset", "scale": {"domain": ["Test", "Val."], "range": [[1, 0], [4, 3]]}, "legend": {"symbolStrokeColor": "#3366FF"}}}}
  ]}
]}
]}
]}],
"config": {
 "font": "Liberation Sans",
 "view": {"stroke": "#333333", "strokeWidth": 1},
 "axis": {"domain": false, "grid": true, "gridColor": "#EBEBEB", "tickColor": "#333333", "tickSize": 4, "tickWidth": 1, "labelColor": "#4D4D4D", "labelFontSize": 11, "labelFont": "Liberation Sans", "labelPadding": 2},
 "axisY": {"labelPadding": 3},
 "legend": {"titleFontSize": 14, "titleFontWeight": "normal", "titleColor": "#000000", "labelFontSize": 12, "labelColor": "#000000", "symbolType": "stroke", "symbolStrokeWidth": 2, "symbolSize": 280, "rowPadding": 1, "titlePadding": 8, "offset": 18, "layout": {"right": {"anchor": "middle", "direction": "vertical", "margin": 28}}}
}
}
